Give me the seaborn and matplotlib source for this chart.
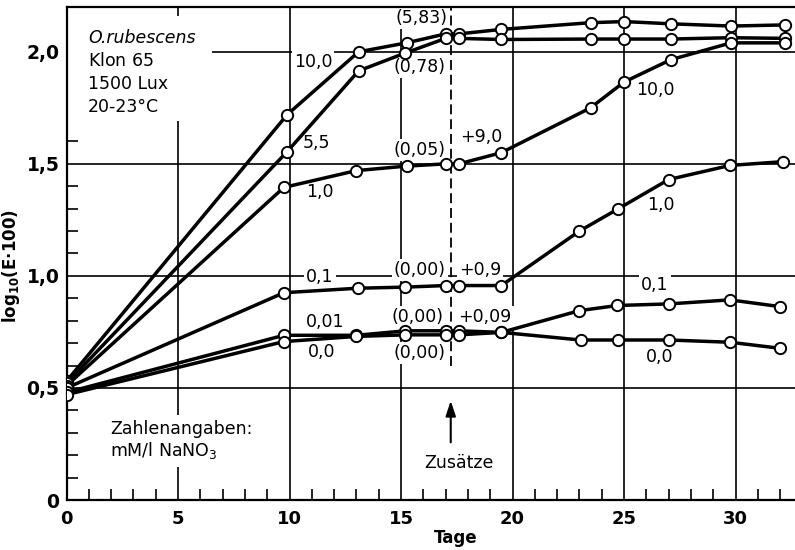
import numpy as np
import pandas as pd
import seaborn as sns
import matplotlib
matplotlib.use("Agg")
import matplotlib.pyplot as plt
from matplotlib.patches import Rectangle

# Growth curves of O. rubescens at different NaNO3 concentrations (mM/l)
series_names = ["10,0", "5,5", "1,0", "0,1", "0,01", "0,0"]

days_10 = [0, 9.9, 13.1, 15.25, 17.0, 17.6, 19.5, 23.5, 25.0, 27.1, 29.8, 32.2]
vals_10 = [0.53, 1.72, 2.00, 2.04, 2.08, 2.08, 2.10, 2.13, 2.135, 2.125, 2.115, 2.12]

days_55 = [0, 9.9, 13.1, 15.2, 17.0, 17.6, 19.5, 23.5, 25.0, 27.1, 29.8, 32.2]
vals_55 = [0.52, 1.555, 1.915, 1.995, 2.06, 2.06, 2.055, 2.057, 2.057, 2.057, 2.063, 2.06]

days_1 = [0, 9.75, 13.0, 15.25, 17.0, 17.6, 19.5, 23.5, 25.0, 27.1, 29.8, 32.2]
vals_1 = [0.51, 1.395, 1.47, 1.49, 1.50, 1.50, 1.55, 1.75, 1.865, 1.965, 2.04, 2.04]

days_01 = [0, 9.75, 13.05, 15.2, 17.0, 17.6, 19.5, 23.0, 24.75, 27.0, 29.75, 32.15]
vals_01 = [0.50, 0.925, 0.945, 0.95, 0.957, 0.957, 0.957, 1.20, 1.30, 1.43, 1.493, 1.51]

days_001 = [0, 9.75, 13.0, 15.2, 17.0, 17.6, 19.5, 23.0, 24.7, 27.0, 29.75, 32.0]
vals_001 = [0.48, 0.735, 0.735, 0.755, 0.755, 0.755, 0.748, 0.845, 0.868, 0.875, 0.893, 0.863]

days_0 = [0, 9.75, 13.0, 15.2, 17.0, 17.6, 19.5, 23.05, 24.75, 27.0, 29.75, 32.0]
vals_0 = [0.47, 0.707, 0.73, 0.737, 0.737, 0.737, 0.748, 0.714, 0.714, 0.714, 0.704, 0.677]

x_ticks = [0, 5, 10, 15, 20, 25, 30]
x_tick_labels = ["0", "5", "10", "15", "20", "25", "30"]
y_ticks = [0, 0.5, 1.0, 1.5, 2.0]
y_tick_labels = ["0", "0,5", "1,0", "1,5", "2,0"]

addition_day = 17.23

frames = []
for name, d, v in zip(series_names,
                      [days_10, days_55, days_1, days_01, days_001, days_0],
                      [vals_10, vals_55, vals_1, vals_01, vals_001, vals_0]):
    frames.append(pd.DataFrame({"Tage": d, "logE": v, "serie": name}))
df = pd.concat(frames, ignore_index=True)

sns.set_style("white")
plt.rcParams["font.family"] = ["DejaVu Sans"]
plt.rcParams["mathtext.fontset"] = "dejavusans"
plt.rcParams["text.color"] = "black"
plt.rcParams["axes.labelcolor"] = "black"
plt.rcParams["xtick.color"] = "black"
plt.rcParams["ytick.color"] = "black"

fig = plt.figure(figsize=(7.95, 5.5), dpi=100)
ax = fig.add_axes([66.5 / 795, 50 / 550, (795 - 66.5) / 795, 493 / 550])

sns.lineplot(data=df, x="Tage", y="logE", units="serie", estimator=None,
             color="black", lw=2.5, legend=False, ax=ax, zorder=2)
sns.scatterplot(data=df, x="Tage", y="logE", color="white", edgecolor="black",
                s=66, linewidth=1.4, legend=False, ax=ax, zorder=3)

ax.set_xlim(0, (795 - 66.5) / 22.3)
ax.set_ylim(0, 2.2)

# grid and frame
ax.set_axisbelow(True)
ax.set_xticks(x_ticks)
ax.set_xticklabels(x_tick_labels, fontsize=13, fontweight="bold")
ax.set_yticks(y_ticks)
ax.set_yticklabels(y_tick_labels, fontsize=13.5, fontweight="bold")
ax.set_xticks(np.arange(0, 33, 1), minor=True)
ax.set_yticks(np.arange(0, 2.21, 0.1), minor=True)
ax.grid(True, which="major", color="black", lw=1.2)
ax.tick_params(which="major", length=0, pad=7)
ax.tick_params(axis="y", which="major", pad=5)
ax.tick_params(which="minor", direction="in", length=8, width=1.2, color="black")
ax.tick_params(axis="x", which="minor", top=False, bottom=True)
ax.tick_params(axis="y", which="minor", left=True, right=False)
for side in ["left", "bottom", "top"]:
    ax.spines[side].set_color("black")
    ax.spines[side].set_linewidth(1.6)
ax.spines["right"].set_visible(False)

ax.set_xlabel("Tage", fontsize=12, fontweight="bold")
ax.set_ylabel(r"log$_{\mathbf{10}}$(E·100)", fontsize=12, fontweight="bold")
ax.xaxis.set_label_coords((456 - 66.5) / 728.5, -0.058)
ax.yaxis.set_label_coords((22 - 66.5) / 728.5, 0.475)

box = dict(facecolor="white", edgecolor="none", pad=1.5)
tk = dict(fontsize=12.5, zorder=1.5, bbox=box, va="center", ha="center")

# header block on a blank field that interrupts the grid
ax.add_patch(Rectangle((0.08, 1.69), 6.45, 0.47, facecolor="white",
                       edgecolor="none", zorder=1))
ax.text(0.96, 2.062, "O.rubescens", style="italic", ha="left", va="center",
        fontsize=12.5, zorder=1.5)
ax.text(0.96, 1.96, r"Klon $\mathit{65}$", ha="left", va="center",
        fontsize=12.5, zorder=1.5)
ax.text(0.96, 1.857, "1500 Lux", ha="left", va="center",
        fontsize=12.5, zorder=1.5)
ax.text(0.96, 1.754, "20-23°C", ha="left", va="center",
        fontsize=12.5, zorder=1.5)

ax.text(1.95, 0.265, "Zahlenangaben:\n" + r"mM/l NaNO$_3$", ha="left",
        va="center", fontsize=12.5, linespacing=1.15, zorder=1.5,
        bbox=dict(facecolor="white", edgecolor="none", pad=4))

# concentration labels on the curves
labels = [
    (11.06, 1.955, "10,0"), (11.22, 1.594, "5,5"), (11.37, 1.375, "1,0"),
    (11.37, 0.996, "0,1"), (11.59, 0.795, "0,01"), (11.44, 0.661, "0,0"),
    (15.92, 2.150, "(5,83)"), (15.85, 1.934, "(0,78)"), (15.85, 1.562, "(0,05)"),
    (15.85, 1.027, "(0,00)"), (15.74, 0.818, "(0,00)"), (15.85, 0.655, "(0,00)"),
    (18.58, 1.622, "+9,0"), (18.54, 1.027, "+0,9"), (18.77, 0.818, "+0,09"),
    (26.39, 1.830, "10,0"), (26.65, 1.317, "1,0"),
    (26.39, 0.960, "0,1"), (26.61, 0.640, "0,0"),
]
for x, y, s in labels:
    ax.text(x, y, s, **tk)

# time of the nitrate additions
ax.plot([addition_day, addition_day], [0.6, 2.2], color="black", lw=1.3,
        ls=(0, (5.5, 2.7)), zorder=1.8)
ax.annotate("", xy=(addition_day, 0.455), xytext=(addition_day, 0.245),
            arrowprops=dict(arrowstyle="-|>,head_length=0.9,head_width=0.3",
                            color="black", lw=1.5))
ax.text(17.6, 0.164, "Zusätze", ha="center", va="center", fontsize=12.5,
        zorder=1.5, bbox=box)

fig.savefig("out.png", dpi=100)
